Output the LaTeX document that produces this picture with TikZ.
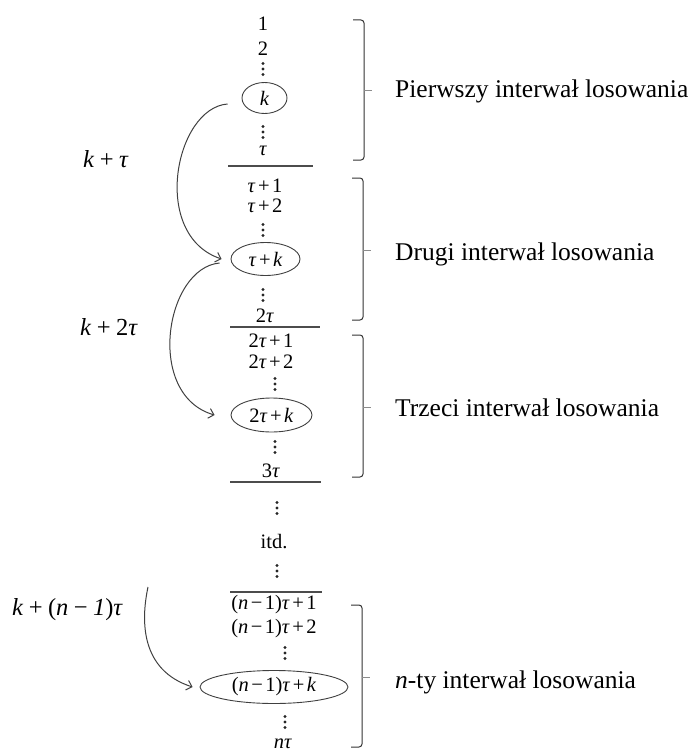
\documentclass[tikz,border=0pt]{standalone}
\usepackage{fontspec}
\setmainfont{Liberation Serif}
\usetikzlibrary{arrows.meta,shapes.geometric}
% italic letters used in the expressions
\newcommand\vk{\textit{k}}
\newcommand\vn{\textit{n}}
\newcommand\vt{\textit{τ}}
\newcommand\op[1]{\kern0.12em#1\kern0.12em}
\newcommand\wop[1]{\kern0.22em#1\kern0.22em}
% a vertical ellipsis of three dots centred at (#1,#2)
\newcommand\dotcol[2]{\foreach \dd in {-5.5,0,5.5}{\fill[black!85] (#1,#2+\dd) circle (1.6);}}
\begin{document}
\begin{tikzpicture}[x=1pt,y=-1pt,
  every node/.style={inner sep=0pt},
  num/.style={font=\fontsize{20.5}{20.5}\selectfont, anchor=base},
  lbl/.style={font=\fontsize{25.5}{25.5}\selectfont, anchor=base west},
  sum/.style={font=\fontsize{24.5}{24.5}\selectfont, anchor=base west},
  oval/.style={ellipse, draw=black!75, line width=0.9pt, font=\fontsize{20.5}{20.5}\selectfont},
  sep/.style={draw=black!70, line width=1.2pt},
  brk/.style={draw=black!80, line width=1pt, rounded corners=3pt},
  tick/.style={draw=black!45, line width=0.6pt},
  arr/.style={draw=black!75, line width=1pt, -{Straight Barb[length=5pt,width=10pt]}}
]
\useasboundingbox (0,0) rectangle (693,752);

% ---- first interval
\node[num] (n1) at (263,31) {1};
\node[num] (n2) at (263,56) {2};
\dotcol{263}{69}
\node[oval, minimum width=45, minimum height=31] (e1) at (264.5,98) {\vk};
\dotcol{263}{132}
\node[num] (n3) at (263,155) {\vt};
\draw[sep] (228,166) -- (313,166);

% ---- second interval
\node[num] (m1) at (265,192) {\vt\op{+}1};
\node[num] (m2) at (265,212) {\vt\op{+}2};
\dotcol{263}{230}
\node[oval, minimum width=69, minimum height=33] (e2) at (265.5,259) {\vt\op{+}\vk};
\dotcol{263}{295}
\node[num] (m3) at (265,322) {2\vt};
\draw[sep] (230,327) -- (320,327);

% ---- third interval
\node[num] (p1) at (271,347) {2\vt\op{+}1};
\node[num] (p2) at (271,368) {2\vt\op{+}2};
\dotcol{275}{384}
\node[oval, minimum width=81, minimum height=34] (e3) at (271.5,415) {2\vt\op{+}\vk};
\dotcol{275}{447}
\node[num] (p3) at (271,477) {3\vt};
\draw[sep] (230,482) -- (321,482);

% ---- continuation
\dotcol{277}{508}
\node[num] (itd) at (274,548) {itd.};
\dotcol{277}{571}
\draw[sep] (230,592) -- (322,592);

% ---- n-th interval
\node[num] (q1) at (274,609) {(\vn\op{−}1)\vt\op{+}1};
\node[num] (q2) at (274,633) {(\vn\op{−}1)\vt\op{+}2};
\dotcol{285}{653}
\node[oval, minimum width=148, minimum height=33] (e4) at (274,687) {(\vn\op{−}1)\vt\op{+}\vk};
\dotcol{285}{722}
\node[num] (q3) at (283,748) {\vn\vt};

% ---- brackets with their labels
\draw[brk] (353,20) -- (364,20) -- (364,160) -- (353,160);
\draw[tick] (364,90) -- (372,90);
\node[lbl] (l1) at (395,97) {Pierwszy interwał losowania};

\draw[brk] (352,178) -- (363,178) -- (363,320) -- (352,320);
\draw[tick] (363,250) -- (371,250);
\node[lbl] (l2) at (395,260) {Drugi interwał losowania};

\draw[brk] (352,335) -- (363,335) -- (363,477) -- (352,477);
\draw[tick] (363,407) -- (371,407);
\node[lbl] (l3) at (395,416) {Trzeci interwał losowania};

\draw[brk] (351,605) -- (362,605) -- (362,747) -- (351,747);
\draw[tick] (362,677) -- (370,677);
\node[lbl] (l4) at (395,688) {\vn-ty interwał losowania};

% ---- jumps between the drawn elements
\node[sum] (s1) at (83,167) {\vk\wop{+}\vt};
\node[sum] (s2) at (80,335) {\vk\wop{+}2\vt};
\node[sum] (s3) at (12,615) {\vk\wop{+}(\vn\wop{−}\textit{1})\vt};

\draw[arr] ([shift={(-14,6)}]e1.west) .. controls (175,108) and (150,235) .. ([xshift=-9pt]e2.west);
\draw[arr] ([shift={(-11,4)}]e2.west) .. controls (165,268) and (145,395) .. ([xshift=-16pt]e3.west);
\coordinate (c3) at (148,587);
\draw[arr] (c3) .. controls (141,620) and (140,670) .. ([xshift=-7pt]e4.west);
\end{tikzpicture}
\end{document}
